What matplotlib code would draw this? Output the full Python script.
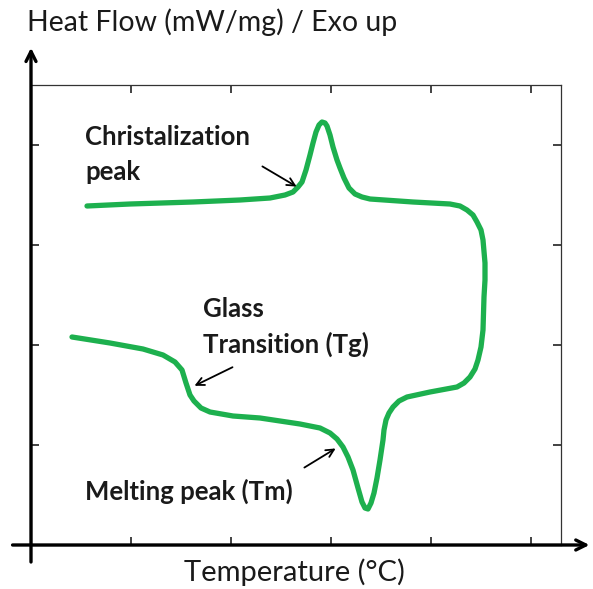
import matplotlib
matplotlib.use('Agg')
import matplotlib.pyplot as plt

# DSC curve (arbitrary units), traced as one continuous path
temp = [0.56, 0.99, 1.62, 2.09, 2.39, 2.54, 2.62, 2.67, 2.71, 2.75, 2.79, 2.82,
        2.85, 2.88, 2.91, 2.94, 2.96, 2.99, 3.02, 3.06, 3.09, 3.13, 3.18, 3.24,
        3.31, 3.39, 3.82, 4.19, 4.29, 4.36, 4.42, 4.46, 4.50, 4.52, 4.54, 4.54,
        4.53, 4.52, 4.50, 4.47, 4.44, 4.39, 4.33, 4.26, 3.99, 3.76, 3.68, 3.62,
        3.58, 3.55, 3.53, 3.52, 3.49, 3.46, 3.43, 3.40, 3.37, 3.34, 3.31, 3.27,
        3.22, 3.17, 3.12, 3.06, 2.99, 2.89, 2.69, 2.29, 2.02, 1.79, 1.70, 1.63,
        1.59, 1.55, 1.51, 1.44, 1.32, 1.12, 0.79, 0.41]
heat = [3.39, 3.41, 3.43, 3.45, 3.47, 3.50, 3.53, 3.58, 3.63, 3.75, 3.90, 4.02,
        4.13, 4.20, 4.23, 4.22, 4.19, 4.10, 3.98, 3.85, 3.77, 3.67, 3.57, 3.51,
        3.48, 3.46, 3.43, 3.41, 3.39, 3.35, 3.30, 3.23, 3.15, 3.05, 2.82, 2.65,
        2.48, 2.15, 1.98, 1.85, 1.76, 1.68, 1.62, 1.58, 1.53, 1.48, 1.44, 1.38,
        1.32, 1.25, 1.15, 1.05, 0.85, 0.67, 0.52, 0.42, 0.36, 0.37, 0.43, 0.57,
        0.75, 0.88, 0.98, 1.06, 1.12, 1.17, 1.21, 1.27, 1.29, 1.33, 1.37, 1.44,
        1.50, 1.62, 1.75, 1.83, 1.90, 1.96, 2.02, 2.08]

xticks = [1, 2, 3, 4, 5]
yticks = [1, 2, 3, 4]

# annotation texts and arrows: (label, text pos, arrow tail, arrow head)
labels = ['Christalization\npeak', 'Glass\nTransition (Tg)', 'Melting peak (Tm)']
label_pos = [(0.54, 3.90), (1.72, 2.18), (0.54, 0.54)]
arrow_tail = [(2.29, 3.80), (2.04, 1.79), (2.71, 0.76)]
arrow_head = [(2.68, 3.57), (1.61, 1.58), (3.07, 0.98)]

plt.rcParams['font.family'] = ['Lato', 'DejaVu Sans']

W, H = 593, 589
fig = plt.figure(figsize=(W / 100, H / 100), dpi=100)
ax = fig.add_axes([31 / W, 1 - 545 / H, 530 / W, 460 / H])

ax.plot(temp, heat, color='#1db04e', lw=3.8, solid_capstyle='round',
        solid_joinstyle='round')

ax.set_xlim(0, 5.3)
ax.set_ylim(0, 4.6)
ax.set_xticks(xticks)
ax.set_yticks(yticks)
ax.tick_params(direction='in', length=6, width=1.2, top=True, right=True,
               labelbottom=False, labelleft=False, color='#222222')
for s in ax.spines.values():
    s.set_linewidth(0.9)
    s.set_color('#333333')

for lab, pos, tail, head in zip(labels, label_pos, arrow_tail, arrow_head):
    ax.text(pos[0], pos[1], lab, fontsize=18.5, fontweight='bold', color='#1a1a1a',
            ha='left', va='center', linespacing=1.55)
    ax.annotate('', xy=head, xytext=tail,
                arrowprops=dict(arrowstyle='->', color='black', lw=1.3,
                                mutation_scale=14))

# axis arrows
ax.annotate('', xy=(0, 1.087), xytext=(0, -0.043), xycoords='axes fraction',
            arrowprops=dict(arrowstyle='->', color='black', lw=2.4,
                            mutation_scale=18), annotation_clip=False)
ax.annotate('', xy=(1.059, 0), xytext=(-0.04, 0), xycoords='axes fraction',
            arrowprops=dict(arrowstyle='->', color='black', lw=2.4,
                            mutation_scale=18), annotation_clip=False)

fig.text(27 / W, 1 - 22 / H, 'Heat Flow (mW/mg) / Exo up', fontsize=20.5,
         ha='left', va='center', color='#1a1a1a')
fig.text(294 / W, 1 - 572 / H, 'Temperature (°C)', fontsize=21,
         ha='center', va='center', color='#1a1a1a')

fig.savefig('out.png', dpi=100)
